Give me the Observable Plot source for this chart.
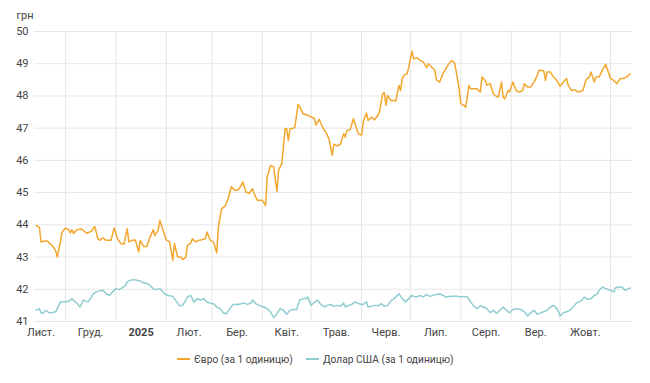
<!DOCTYPE html>
<html><head><meta charset="utf-8">
<script src="https://cdn.jsdelivr.net/npm/d3@7"></script>
<script src="https://cdn.jsdelivr.net/npm/@observablehq/plot@0.6"></script>
<style>
body{margin:0;background:#fff;font-family:Roboto,sans-serif;}
#legend{display:flex;align-items:center;margin-top:7px;padding-left:177px;height:14px;font-size:10.2px;color:#444;white-space:nowrap}
.sw{display:inline-block;width:13px;height:2px;margin-right:4px}
.item{display:flex;align-items:center;margin-right:13px}
</style></head><body><div id="chart"></div><div id="legend"></div>
<script>
// days counted from 2024-12-01
const eurDay = [-18,-16,-15,-13,-11,-10,-8,-6,-5,-3,-2,0,2,3,4,5,7,10,13,16,18,20,21,23,25,28,30,32,34,36,38,39,41,43,45,46,48,50,52,54,55,57,58,60,62,64,66,67,69,71,72,74,75,77,78,80,82,84,86,87,89,91,93,94,96,98,100,102,104,106,108,109,111,113,115,116,118,121,123,124,126,128,130,131,133,135,136,137,138,140,141,143,144,146,149,153,154,156,158,160,162,164,165,167,169,171,172,173,175,177,178,180,182,183,185,186,188,190,192,193,195,196,197,198,200,202,203,205,206,207,208,210,211,213,214,216,218,220,222,223,225,227,228,230,232,235,237,239,240,242,243,245,246,248,249,251,253,255,256,258,259,261,263,264,266,268,269,270,272,273,275,277,279,281,282,284,286,288,290,291,294,295,296,298,300,302,304,306,308,309,311,313,315,318,320,322,323,325,326,328,330,332,333,335,337,339,341,343,345,347];
const eurVal = [43.98,43.93,43.47,43.5,43.5,43.43,43.35,43.2,43.0,43.5,43.78,43.9,43.85,43.75,43.85,43.73,43.85,43.87,43.74,43.8,43.95,43.57,43.52,43.6,43.52,43.52,43.9,43.57,43.42,43.4,43.88,43.47,43.52,43.53,43.16,43.52,43.33,43.33,43.62,43.85,43.67,43.83,44.14,43.83,43.53,43.47,42.9,43.42,43.0,43.0,42.92,43.0,43.36,43.43,43.57,43.47,43.52,43.54,43.57,43.78,43.52,43.47,43.13,43.93,44.5,44.57,44.8,45.19,45.07,45.07,45.22,45.33,45.02,44.98,45.12,44.97,44.76,44.76,44.6,45.48,45.84,45.8,45.02,45.7,45.9,46.98,46.98,46.62,46.98,47.0,47.03,47.74,47.67,47.45,47.4,47.3,47.1,47.27,47.03,46.88,46.67,46.16,46.5,46.45,46.5,46.83,46.72,46.93,46.95,47.29,47.13,46.83,46.78,47.19,47.47,47.24,47.34,47.26,47.4,47.5,48.07,48.1,47.71,48.02,47.86,47.86,47.84,48.33,48.17,48.54,48.64,48.69,48.9,49.39,49.15,49.19,49.1,49.05,48.88,49.0,48.9,48.8,48.5,48.43,48.69,48.95,49.09,49.05,48.8,48.22,47.76,47.7,47.65,48.33,48.22,48.22,48.22,48.12,48.59,48.48,48.33,48.38,48.07,48.02,47.96,48.43,47.96,47.91,48.17,48.12,48.43,48.17,48.12,48.17,48.38,48.28,48.28,48.43,48.64,48.8,48.78,48.48,48.74,48.74,48.59,48.48,48.3,48.43,48.54,48.33,48.17,48.19,48.12,48.17,48.5,48.59,48.74,48.43,48.59,48.59,48.8,48.98,48.84,48.54,48.48,48.38,48.54,48.54,48.59,48.69];
const usdDay = [-18,-16,-15,-14,-12,-10,-8,-6,-5,-3,-1,1,3,4,6,7,9,11,12,14,16,17,19,21,23,25,27,29,31,33,35,37,38,40,42,44,46,48,50,52,54,56,58,59,61,63,66,67,69,70,72,74,75,77,79,81,83,85,87,89,91,93,95,97,99,101,103,106,108,110,112,114,115,117,119,122,124,126,128,130,132,134,136,138,140,142,144,146,148,149,151,153,155,157,159,161,163,165,167,169,171,172,174,176,178,180,182,183,185,186,188,190,193,194,196,198,200,202,204,205,207,209,211,213,214,216,218,220,222,224,226,228,230,232,234,237,239,241,243,245,247,249,251,253,255,257,259,261,263,265,267,269,271,273,275,277,280,282,284,286,288,290,292,294,296,298,300,302,303,304,306,308,310,312,314,317,319,321,323,325,327,328,330,332,335,337,338,340,342,344,346,347];
const usdVal = [41.35,41.4,41.27,41.25,41.35,41.27,41.28,41.3,41.4,41.61,41.61,41.61,41.66,41.71,41.61,41.58,41.45,41.66,41.64,41.61,41.76,41.86,41.92,41.95,41.97,41.86,41.81,41.92,42.02,41.99,42.05,42.12,42.23,42.28,42.3,42.28,42.26,42.2,42.18,42.12,42.02,41.99,42.02,41.97,41.86,41.81,41.78,41.71,41.56,41.5,41.5,41.66,41.76,41.81,41.6,41.71,41.66,41.71,41.6,41.57,41.55,41.45,41.4,41.27,41.24,41.4,41.53,41.53,41.55,41.57,41.53,41.57,41.67,41.55,41.5,41.45,41.4,41.3,41.12,41.24,41.4,41.35,41.22,41.35,41.37,41.37,41.66,41.71,41.71,41.76,41.5,41.6,41.66,41.53,41.45,41.5,41.53,41.47,41.5,41.47,41.57,41.45,41.5,41.53,41.61,41.56,41.53,41.53,41.61,41.45,41.47,41.5,41.5,41.56,41.47,41.5,41.64,41.71,41.81,41.86,41.71,41.61,41.71,41.81,41.78,41.76,41.81,41.76,41.84,41.78,41.81,41.84,41.86,41.81,41.76,41.78,41.78,41.78,41.76,41.78,41.76,41.61,41.47,41.4,41.48,41.45,41.4,41.27,41.35,41.25,41.35,41.45,41.35,41.27,41.37,41.4,41.37,41.3,41.17,41.27,41.35,41.22,41.27,41.3,41.35,41.45,41.5,41.4,41.3,41.17,41.27,41.3,41.35,41.45,41.57,41.64,41.76,41.68,41.71,41.81,41.86,41.97,42.07,42.02,41.97,41.91,42.05,42.07,42.07,41.97,42.02,42.04];
const yTicks = [41,42,43,44,45,46,47,48,49,50];
const monthLabels = ["Лист.","Груд.","2025","Лют.","Бер.","Квіт.","Трав.","Черв.","Лип.","Серп.","Вер.","Жовт."];
const eurName = "Євро (за 1 одиницю)";
const usdName = "Долар США (за 1 одиницю)";
const eurColor = "#f2a72e";
const usdColor = "#8fcdd0";

const base = Date.UTC(2024, 11, 1);
const DAY = 864e5;
const toDate = d => new Date(base + d * DAY);
const eurRows = eurDay.map((d, i) => ({date: toDate(d), value: eurVal[i]}));
const usdRows = usdDay.map((d, i) => ({date: toDate(d), value: usdVal[i]}));

const x0 = new Date(Date.UTC(2024, 10, 12));
const x1 = new Date(+x0 + 367.5 * DAY);
const monthStarts = d3.utcMonth.range(new Date(Date.UTC(2024, 10, 1)), new Date(Date.UTC(2025, 10, 2)));
const gridMonths = monthStarts.filter(d => d > x0 && d < x1);
const mids = monthStarts.slice(0, monthLabels.length).map(d => new Date((+d + +d3.utcMonth.offset(d, 1)) / 2));
const labelByTime = new Map(mids.map((d, i) => [+d, monthLabels[i]]));

const chart = Plot.plot({
  width: 650, height: 345,
  marginTop: 31, marginBottom: 24, marginLeft: 34, marginRight: 18,
  style: {fontFamily: "Roboto, sans-serif", fontSize: "11px", color: "#444", background: "#fff"},
  x: {type: "utc", domain: [x0, x1]},
  y: {domain: [41, 50]},
  marks: [
    Plot.gridY(yTicks, {stroke: "#e6e6e6", strokeOpacity: 1}),
    Plot.gridX(gridMonths, {stroke: "#e6e6e6", strokeOpacity: 1}),
    Plot.axisY(yTicks, {tickSize: 0, tickPadding: 6, label: null, tickFormat: d => String(d)}),
    Plot.axisX(mids, {tickSize: 0, tickPadding: 7, label: null, tickFormat: d => labelByTime.get(+d)}),
    Plot.lineY(usdRows, {x: "date", y: "value", stroke: usdColor, strokeWidth: 1.5}),
    Plot.lineY(eurRows, {x: "date", y: "value", stroke: eurColor, strokeWidth: 1.5}),
    Plot.text(["грн"], {frameAnchor: "top-left", dx: -18, dy: -16, textAnchor: "start", lineAnchor: "middle", fill: "#444"})
  ]
});
chart.querySelectorAll("text").forEach(t => { if (t.textContent === "2025") t.setAttribute("font-weight", "bold"); });
document.getElementById("chart").append(chart);

const legend = document.getElementById("legend");
[[eurName, eurColor], [usdName, usdColor]].forEach(([name, color]) => {
  const item = document.createElement("span");
  item.className = "item";
  const sw = document.createElement("span");
  sw.className = "sw";
  sw.style.background = color;
  item.append(sw, document.createTextNode(name));
  legend.append(item);
});
</script></body></html>
